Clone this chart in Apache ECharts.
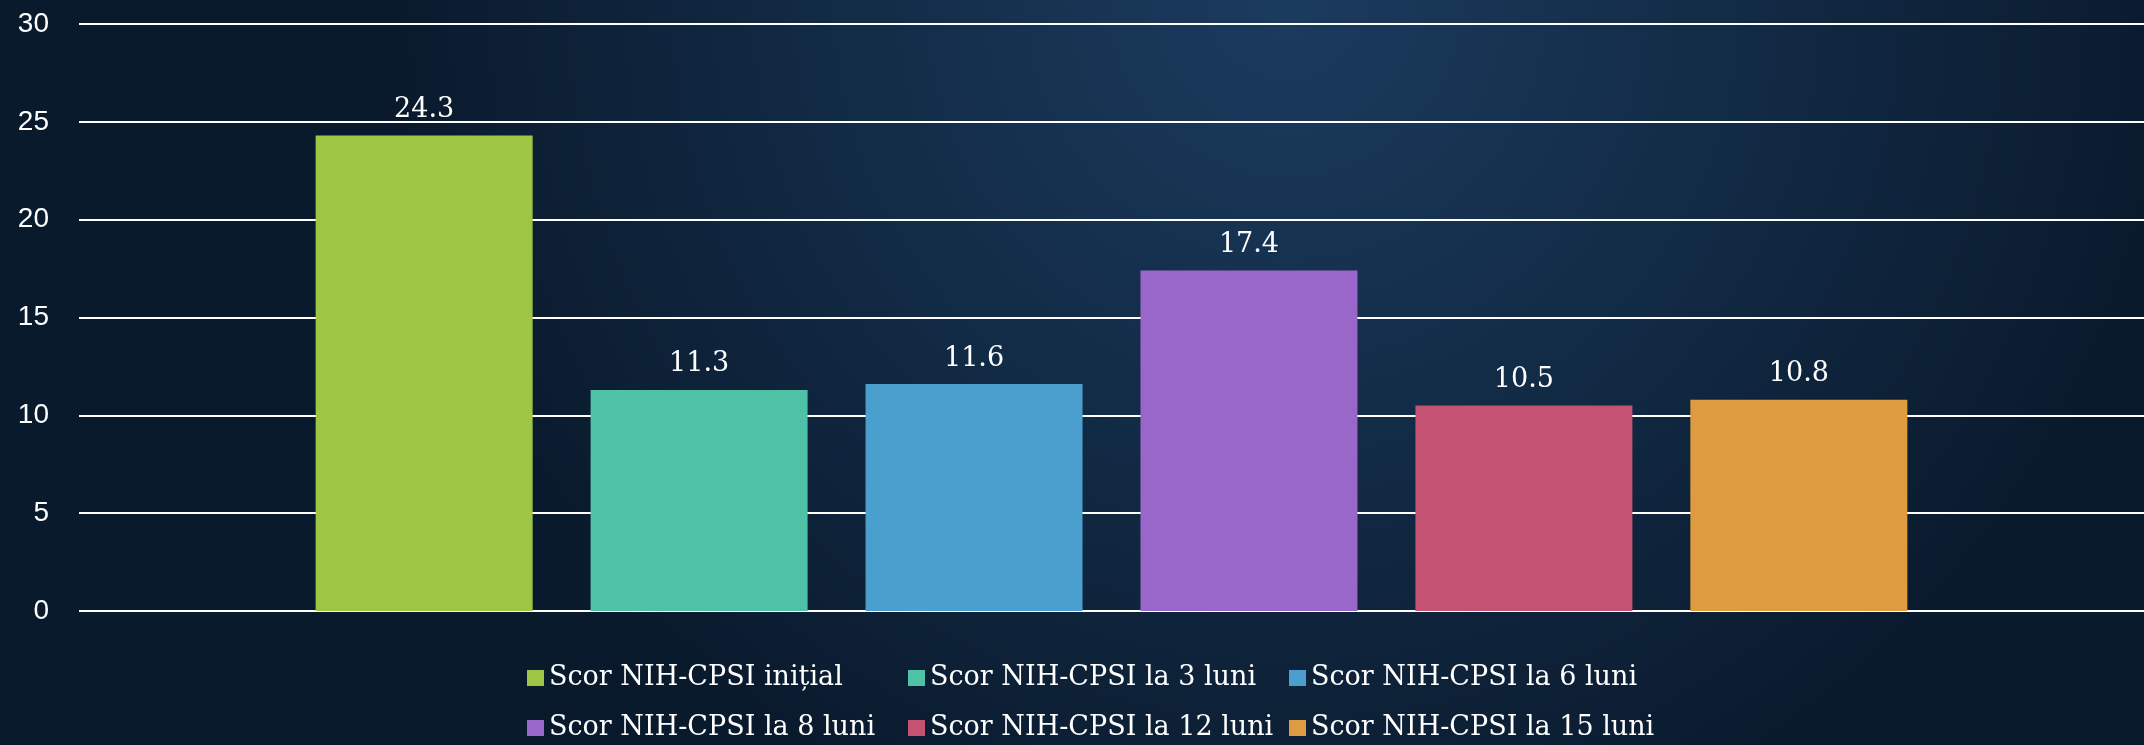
<!DOCTYPE html>
<html>
<head>
<meta charset="utf-8">
<script src="https://cdn.jsdelivr.net/npm/echarts@6/dist/echarts.min.js"></script>
<style>
  html, body { margin: 0; padding: 0; }
  #chart { width: 2144px; height: 745px; }
</style>
</head>
<body>
<div id="chart"></div>
<script>
const seriesNames = [
  'Scor NIH-CPSI inițial',
  'Scor NIH-CPSI la 3 luni',
  'Scor NIH-CPSI la 6 luni',
  'Scor NIH-CPSI la 8 luni',
  'Scor NIH-CPSI la 12 luni',
  'Scor NIH-CPSI la 15 luni'
]
const scores = [24.3, 11.3, 11.6, 17.4, 10.5, 10.8]
const colors = ['#9fc545', '#4fc1a6', '#4a9fcf', '#9966c9', '#c45272', '#df9b3f']
const categories = ['']

const chart = echarts.init(document.getElementById('chart'))

const series = seriesNames.map((name, i) => ({
  name: name,
  type: 'bar',
  data: [scores[i]],
  barWidth: 217,
  barGap: '26.7%',
  itemStyle: { color: colors[i] },
  label: {
    show: true,
    position: 'top',
    distance: 12,
    color: '#ffffff',
    fontFamily: 'DejaVu Serif',
    fontSize: 27
  }
}))

chart.setOption({
  backgroundColor: {
    type: 'radial',
    x: 0.6, y: 0.0, r: 1.2,
    colorStops: [
      { offset: 0, color: '#1b3b5e' },
      { offset: 0.5, color: '#122b46' },
      { offset: 1, color: '#0a1a2d' }
    ]
  },
  animation: false,
  grid: {
    left: 79,
    right: 0,
    top: 24,
    bottom: 134,
    containLabel: false
  },
  legend: {
    data: seriesNames,
    left: 522,
    top: 652,
    width: 1160,
    itemWidth: 17,
    itemHeight: 16,
    itemGap: 8,
    icon: 'rect',
    textStyle: {
      color: '#ffffff',
      fontFamily: 'DejaVu Serif',
      fontSize: 27,
      width: 351,
      lineHeight: 42
    }
  },
  xAxis: {
    type: 'category',
    data: categories,
    axisLine: { show: false },
    axisTick: { show: false },
    axisLabel: { show: false }
  },
  yAxis: {
    type: 'value',
    min: 0,
    max: 30,
    interval: 5,
    axisLine: { show: false },
    axisTick: { show: false },
    axisLabel: {
      color: '#ffffff',
      fontFamily: 'Liberation Sans',
      fontSize: 28,
      margin: 30
    },
    splitLine: {
      lineStyle: { color: '#ffffff', width: 2 }
    }
  },
  series: series
})
</script>
</body>
</html>
